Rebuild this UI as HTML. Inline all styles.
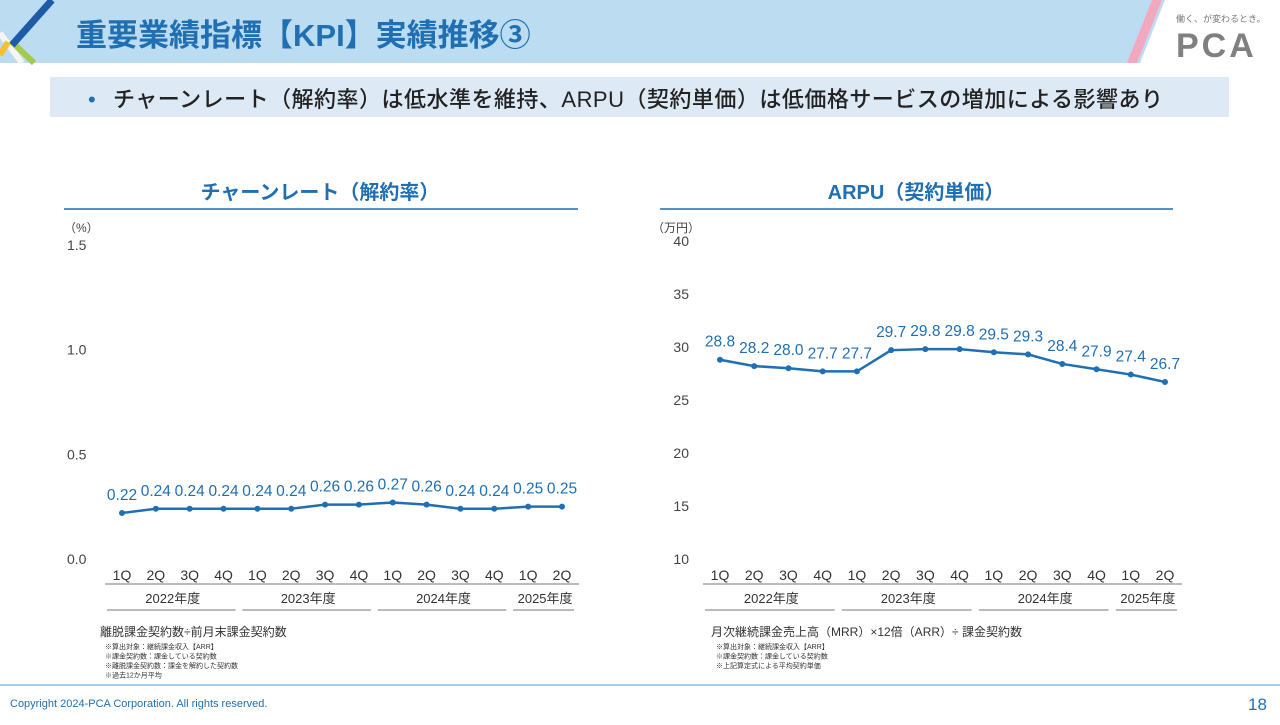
<!DOCTYPE html>
<html><head><meta charset="utf-8">
<style>
body{margin:0;width:1280px;height:720px;overflow:hidden;background:#fff;font-family:"Liberation Sans","Noto Sans CJK JP",sans-serif;}
svg text{font-family:"Liberation Sans","Noto Sans CJK JP",sans-serif;}
</style></head>
<body>
<svg id="s" width="1280" height="720" xmlns="http://www.w3.org/2000/svg">
  <polygon points="0,0 1165,0 1140,63 0,63" fill="#bcdcf2"/>
  <polygon points="1152,0 1162,0 1137,63 1127,63" fill="#f2a9c0"/>
  <line x1="0" y1="33" x2="22" y2="63" stroke="#f5f5f5" stroke-width="6"/>
  <line x1="8" y1="42" x2="0" y2="55" stroke="#f7c033" stroke-width="6"/>
  <line x1="12" y1="42" x2="34" y2="63" stroke="#a5c94a" stroke-width="6"/>
  <line x1="52" y1="0" x2="12" y2="45" stroke="#1f5aa6" stroke-width="7"/>
  <text x="76" y="46" font-size="31" font-weight="bold" fill="#1f6fb2">重要業績指標【KPI】実績推移③</text>
  <text x="1176" y="22" font-size="9" fill="#777">働く、が変わるとき。</text>
  <text x="1176" y="57" font-size="34" font-weight="bold" fill="#808080" letter-spacing="3">PCA</text>
  <rect x="50" y="77" width="1179" height="40" fill="#dde9f5"/>
  <text x="88" y="107" font-size="22" fill="#1f6fb2">•</text>
  <text x="113" y="107" font-size="22" fill="#222" font-weight="500" textLength="1050" lengthAdjust="spacing">チャーンレート（解約率）は低水準を維持、ARPU（契約単価）は低価格サービスの増加による影響あり</text>
  <line x1="0" y1="685" x2="1280" y2="685" stroke="#8fb8da" stroke-width="1.5"/>
  <text x="10" y="707" font-size="11" fill="#1f6fb2">Copyright 2024-PCA Corporation. All rights reserved.</text>
  <text x="1248" y="710" font-size="17" fill="#1f6fb2">18</text>
  <g id="c1"></g>
  <g id="c2"></g>
</svg>
<script>
const quarters=["1Q","2Q","3Q","4Q","1Q","2Q","3Q","4Q","1Q","2Q","3Q","4Q","1Q","2Q"];
const years=["2022年度","2023年度","2024年度","2025年度"];
const churnValues=[0.22,0.24,0.24,0.24,0.24,0.24,0.26,0.26,0.27,0.26,0.24,0.24,0.25,0.25];
const churnLabels=["0.22","0.24","0.24","0.24","0.24","0.24","0.26","0.26","0.27","0.26","0.24","0.24","0.25","0.25"];
const churnTicks=[0,0.5,1.0,1.5];
const churnTickLabels=["0.0","0.5","1.0","1.5"];
const arpuValues=[28.8,28.2,28.0,27.7,27.7,29.7,29.8,29.8,29.5,29.3,28.4,27.9,27.4,26.7];
const arpuLabels=["28.8","28.2","28.0","27.7","27.7","29.7","29.8","29.8","29.5","29.3","28.4","27.9","27.4","26.7"];
const arpuTicks=[10,15,20,25,30,35,40];
const arpuTickLabels=["10","15","20","25","30","35","40"];
const NS="http://www.w3.org/2000/svg";
function mk(g,tag,at,txt){const e=document.createElementNS(NS,tag);for(const k in at)e.setAttribute(k,at[k]);if(txt!==undefined)e.textContent=txt;g.appendChild(e);return e;}
function chart(gid,o){
  const g=document.getElementById(gid);
  const x=i=>o.x0+i*(o.x1-o.x0)/(quarters.length-1);
  const y=v=>o.yb-(v-o.vmin)/(o.vmax-o.vmin)*(o.yb-o.yt);
  let t=mk(g,'text',{x:o.tx,y:199,'font-size':20,'font-weight':'bold',fill:'#1f6fb2','text-anchor':'middle'},o.title);
  
  
  let l=mk(g,'line',{x1:o.lx0,x2:o.lx1,y1:209,y2:209,stroke:'#1f6fb2','stroke-width':1.5});
  
  
  t=mk(g,'text',{x:o.ux,y:232,'font-size':12,fill:'#444'},o.unit);
  
  
  o.ticks.forEach((v,i)=>{const e=mk(g,'text',{x:o.yl,y:y(v)+5,'font-size':14,fill:'#444','text-anchor':o.anchor},o.tickLabels[i]);
    
    });
  quarters.forEach((q,i)=>{const e=mk(g,'text',{x:x(i),y:580,'font-size':14,fill:'#333','text-anchor':'middle'},q);
    
    });
  let a=mk(g,'line',{x1:x(0)-17,x2:x(13)+17,y1:584,y2:584,stroke:'#777','stroke-width':1});
  
  
  const groups=[[0,3],[4,7],[8,11],[12,13]];
  groups.forEach((gr,i)=>{const cx=(x(gr[0])+x(gr[1]))/2;
    const e=mk(g,'text',{x:cx,y:603,'font-size':13,fill:'#333','text-anchor':'middle'},years[i]);
    
    
    const ln=mk(g,'line',{x1:x(gr[0])-15,x2:x(gr[1])+12,y1:610,y2:610,stroke:'#777','stroke-width':1});
    
    });
  const vals=o.values;
  const p=mk(g,'polyline',{points:vals.map((v,i)=>x(i)+','+y(v)).join(' '),fill:'none',stroke:'#1f6fb2','stroke-width':2.5});
  
  
  vals.forEach((v,i)=>{const c=mk(g,'circle',{cx:x(i),cy:y(v),r:3,fill:'#1f6fb2'});
    
    
    const e=mk(g,'text',{x:x(i),y:y(v)-13,'font-size':15.5,fill:'#1f6fb2','text-anchor':'middle'},o.labels[i]);
    
    });
  o.notes.forEach((n,i)=>{const e=mk(g,'text',{x:o.nx+(i?5:0),y:i?649+(i-1)*9.5:636,'font-size':i?7:12,fill:'#333'},n);
    
    });
}
chart('c1',{x0:122,x1:562,yb:559,yt:245,vmin:0,vmax:1.5,ticks:churnTicks,tickLabels:churnTickLabels,values:churnValues,labels:churnLabels,
  title:'チャーンレート（解約率）',tx:320,lx0:64,lx1:578,unit:'（%）',ux:64,yl:67,anchor:'start',
  nx:100,notes:['離脱課金契約数÷前月末課金契約数','※算出対象：継続課金収入【ARR】','※課金契約数：課金している契約数','※離脱課金契約数：課金を解約した契約数','※過去12か月平均']});
chart('c2',{x0:720,x1:1165,yb:559,yt:241,vmin:10,vmax:40,ticks:arpuTicks,tickLabels:arpuTickLabels,values:arpuValues,labels:arpuLabels,
  title:'ARPU（契約単価）',tx:916,lx0:660,lx1:1173,unit:'（万円）',ux:652,yl:689,anchor:'end',
  nx:711,notes:['月次継続課金売上高（MRR）×12倍（ARR）÷ 課金契約数','※算出対象：継続課金収入【ARR】','※課金契約数：課金している契約数','※上記算定式による平均契約単価']});
</script>
</body></html>
